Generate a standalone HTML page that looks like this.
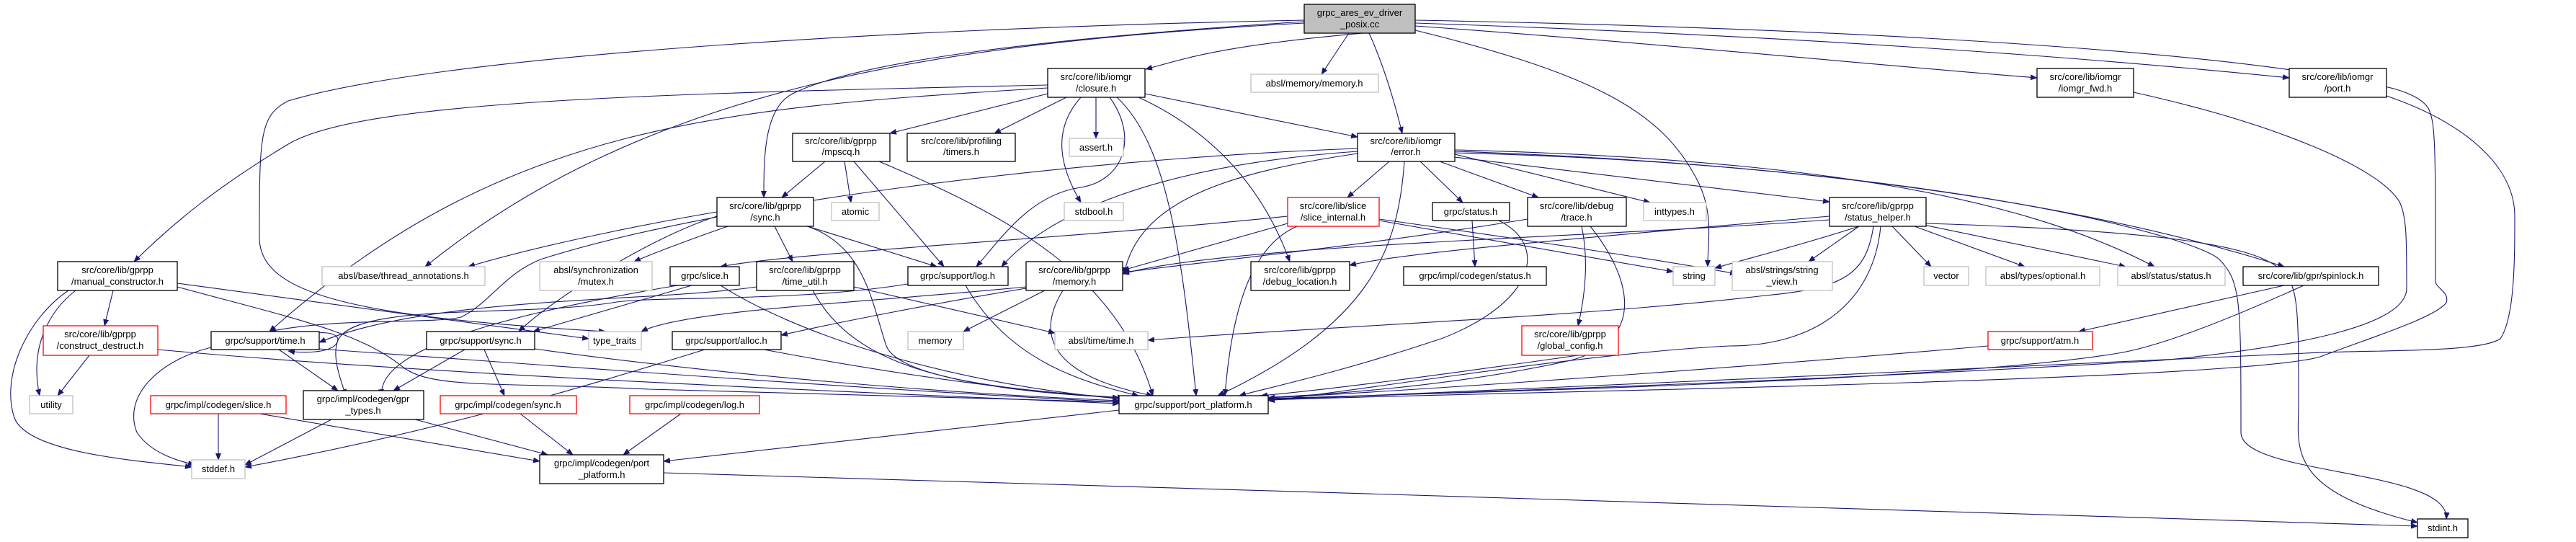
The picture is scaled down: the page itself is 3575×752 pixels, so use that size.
<!DOCTYPE html>
<html><head><meta charset="utf-8"><style>
html,body{margin:0;padding:0;background:#fff;}
svg{display:block;}
text{font-family:"Liberation Sans",sans-serif;font-size:13px;fill:#000;text-anchor:middle;}
.e{fill:none;stroke:#191970;stroke-width:1.1;marker-end:url(#a);}
.n{fill:#fff;stroke:#000;stroke-width:1.3;}
.g{fill:#fff;stroke:#bfbfbf;stroke-width:1.3;}
.r{fill:#fff;stroke:#ff0000;stroke-width:1.3;}
</style></head><body>
<svg width="3575" height="752" viewBox="0 0 3575 752" xmlns="http://www.w3.org/2000/svg">
<defs><marker id="a" markerWidth="10" markerHeight="8" refX="9" refY="4" orient="auto" markerUnits="userSpaceOnUse"><path d="M0,0 L10,4 L0,8 z" fill="#191970"/></marker></defs>
<g>
<!-- root edges -->
<path class="e" d="M1964,40 C1700,60 1650,80 1590,96"/>
<path class="e" d="M1872,46 L1834,103"/>
<path class="e" d="M1900,46 C1920,90 1935,140 1946,185"/>
<path class="e" d="M1964,36 C2300,60 2600,90 2827,108"/>
<path class="e" d="M1964,32 C2500,50 2900,80 3177,108"/>
<path class="e" d="M1964,28 C2600,40 3000,70 3200,100 C3280,115 3350,120 3370,150 C3380,170 3380,200 3380,390 C3380,400 3400,405 3395,420 C3380,440 3300,465 3220,495 C3100,530 2000,545 1760,555"/>
<path class="e" d="M1810,30 C1500,50 1200,80 1100,130 C1060,150 1060,220 1060,274"/>
<path class="e" d="M1810,32 C1300,60 900,120 590,370"/>
<path class="e" d="M1810,28 C1200,40 600,80 400,140 C360,160 360,190 360,330 C360,410 500,440 840,460"/>
<path class="e" d="M1964,42 C2200,100 2300,150 2350,240 C2380,290 2370,330 2370,370"/>
<!-- closure edges -->
<path class="e" d="M1454,118 C900,130 500,140 400,200 C300,260 240,310 186,363"/>
<path class="e" d="M1454,122 C1000,150 700,170 374,460"/>
<path class="e" d="M1454,130 L1235,185"/>
<path class="e" d="M1480,135 L1380,185"/>
<path class="e" d="M1521,135 L1521,192"/>
<path class="e" d="M1500,135 C1460,180 1470,230 1500,281"/>
<path class="e" d="M1540,135 C1580,190 1560,250 1500,260 C1430,270 1390,330 1355,370"/>
<path class="e" d="M1550,135 C1620,200 1640,350 1660,549"/>
<path class="e" d="M1580,135 C1700,190 1760,280 1790,363"/>
<path class="e" d="M1589,130 L1884,190"/>
<!-- mpscq -->
<path class="e" d="M1145,224 L1085,274"/>
<path class="e" d="M1172,224 L1181,281"/>
<path class="e" d="M1185,224 L1310,370"/>
<path class="e" d="M1220,224 C1400,300 1550,380 1600,549"/>
<!-- sync gprpp -->
<path class="e" d="M995,294 C900,310 750,340 650,370"/>
<path class="e" d="M1010,314 C950,335 910,350 880,363"/>
<path class="e" d="M1121,314 L1300,370"/>
<path class="e" d="M1075,314 L1100,363"/>
<path class="e" d="M995,300 C900,330 760,420 720,460"/>
<path class="e" d="M1120,314 C1200,340 1210,420 1230,480 C1250,530 1450,545 1560,552"/>
<!-- error -->
<path class="e" d="M1928,224 L1870,274"/>
<path class="e" d="M1971,224 L2030,281"/>
<path class="e" d="M1998,224 L2135,274"/>
<path class="e" d="M2019,214 L2290,281"/>
<path class="e" d="M2019,218 L2539,280"/>
<path class="e" d="M2019,208 C2500,220 2800,270 2990,370"/>
<path class="e" d="M2019,210 C2600,230 2950,300 3170,370"/>
<path class="e" d="M2019,212 C2700,230 3050,330 3080,360 C3110,390 3110,420 3110,600 C3110,660 3400,650 3395,720"/>
<path class="e" d="M1949,224 C1940,350 1900,450 1690,549"/>
<path class="e" d="M1884,210 C1600,230 1450,300 1390,370"/>
<path class="e" d="M1884,213 C1700,240 1580,280 1560,380"/>
<path class="e" d="M1884,206 C1500,220 1000,280 750,360 C700,380 680,420 640,440 C600,450 470,440 374,460"/>
<!-- slice_internal -->
<path class="e" d="M1787,300 C1500,330 1100,350 1000,370"/>
<path class="e" d="M1787,310 L1558,375"/>
<path class="e" d="M1914,306 L2322,377"/>
<path class="e" d="M1914,304 C2100,330 2300,360 2410,380"/>
<path class="e" d="M1800,314 C1740,340 1710,420 1700,549"/>
<!-- status.h -->
<path class="e" d="M2043,306 L2047,370"/>
<path class="e" d="M2080,306 C2150,340 2130,420 2000,470 C1850,520 1750,540 1720,549"/>
<!-- trace -->
<path class="e" d="M2195,314 C2205,360 2200,410 2190,452"/>
<path class="e" d="M2207,314 C2260,380 2290,470 2180,500 C2000,540 1800,550 1740,552"/>
<path class="e" d="M2120,304 C1900,340 1700,360 1558,378"/>
<!-- status_helper -->
<path class="e" d="M2539,300 C2200,330 1950,350 1873,368"/>
<path class="e" d="M2580,314 C2500,340 2420,360 2380,372"/>
<path class="e" d="M2580,314 L2510,363"/>
<path class="e" d="M2626,314 L2680,370"/>
<path class="e" d="M2657,314 L2810,370"/>
<path class="e" d="M2660,310 L2950,370"/>
<path class="e" d="M2600,314 C2590,380 2560,400 2450,410 C2200,440 1800,455 1593,472"/>
<path class="e" d="M2610,314 C2600,420 2520,480 2400,480 C2200,490 1900,540 1760,556"/>
<path class="e" d="M2673,310 C3000,320 3120,340 3160,370 C3190,390 3190,420 3190,560 C3190,620 3170,680 3355,725"/>
<path class="e" d="M2539,305 C2200,330 1700,340 1558,380"/>
<!-- memory gprpp -->
<path class="e" d="M1450,403 L1337,460"/>
<path class="e" d="M1424,400 C1300,420 1150,450 1084,465"/>
<path class="e" d="M1475,403 C1440,460 1450,520 1600,549"/>
<path class="e" d="M1424,398 C1200,420 950,430 890,460"/>
<!-- time_util -->
<path class="e" d="M1185,398 L1464,462"/>
<path class="e" d="M1128,403 C1180,500 1300,540 1560,552"/>
<path class="e" d="M1050,398 C900,420 600,410 443,475"/>
<!-- log.h -->
<path class="e" d="M1340,396 C1400,500 1500,530 1580,549"/>
<path class="e" d="M1260,394 C1100,420 900,410 850,420 C720,440 500,420 470,470 C460,490 470,520 480,549"/>
<!-- grpc/slice.h -->
<path class="e" d="M940,396 C800,420 520,470 530,549"/>
<path class="e" d="M960,396 L740,460"/>
<path class="e" d="M1000,396 C1100,460 1300,530 1560,554"/>
<!-- manual constructor -->
<path class="e" d="M105,403 C70,430 40,480 55,549"/>
<path class="e" d="M95,403 C40,440 0,520 20,580 C40,630 200,640 266,648"/>
<path class="e" d="M157,403 L145,452"/>
<path class="e" d="M246,393 L817,470"/>
<path class="e" d="M246,398 C400,440 500,460 560,510 C600,540 700,530 900,540 C1200,550 1400,555 1553,558"/>
<!-- construct_destruct -->
<path class="e" d="M124,493 L80,549"/>
<path class="e" d="M219,485 C600,520 1200,545 1553,560"/>
<!-- time.h -->
<path class="e" d="M400,472 C440,455 480,460 466,478 C455,490 420,490 400,487"/>
<path class="e" d="M387,485 L469,542"/>
<path class="e" d="M293,482 C220,500 170,550 190,600 C210,630 250,640 270,645"/>
<path class="e" d="M443,484 C800,510 1200,540 1553,558"/>
<!-- support sync -->
<path class="e" d="M645,485 L546,542"/>
<path class="e" d="M672,485 L700,549"/>
<path class="e" d="M742,484 C1000,520 1300,545 1553,556"/>
<!-- alloc -->
<path class="e" d="M978,485 C800,540 600,600 340,648"/>
<path class="e" d="M1060,485 C1300,530 1450,545 1553,552"/>
<!-- bottom row -->
<path class="e" d="M303,574 L303,638"/>
<path class="e" d="M360,574 L749,640"/>
<path class="e" d="M460,582 L340,645"/>
<path class="e" d="M576,582 L760,631"/>
<path class="e" d="M722,574 L795,631"/>
<path class="e" d="M945,574 L865,631"/>
<path class="e" d="M1553,569 L921,640"/>
<path class="e" d="M921,656 C1700,680 2800,710 3355,730"/>
<!-- right side -->
<path class="e" d="M2190,493 C2000,520 1850,540 1750,549"/>
<path class="e" d="M2759,480 C2300,520 1900,545 1760,552"/>
<path class="e" d="M3170,396 L2885,460"/>
<path class="e" d="M3197,396 C3100,440 3000,480 2940,490 C2700,530 2000,545 1760,553"/>
<path class="e" d="M2961,128 C3150,170 3300,230 3330,280 C3340,300 3340,330 3340,400 C3340,450 3200,480 3000,500 C2500,530 2000,545 1760,554"/>
<path class="e" d="M3312,133 C3420,170 3490,230 3490,300 C3490,360 3490,440 3470,470 C3440,490 3300,485 3200,490 C3000,500 2000,545 1760,555"/>
</g>
<g>
<rect x="1810" y="6" width="154" height="40" fill="#bfbfbf" stroke="#000" stroke-width="1.3"/><text x="1887" y="22">grpc_ares_ev_driver</text><text x="1887" y="38">_posix.cc</text>

<rect class="n" x="1454" y="95" width="135" height="40"/><text x="1521" y="111">src/core/lib/iomgr</text><text x="1521" y="127">/closure.h</text>
<rect class="g" x="1736" y="103" width="177" height="25"/><text x="1824" y="120" fill="#000">absl/memory/memory.h</text>
<rect class="n" x="2827" y="95" width="134" height="40"/><text x="2894" y="111">src/core/lib/iomgr</text><text x="2894" y="127">/iomgr_fwd.h</text>
<rect class="n" x="3177" y="95" width="135" height="40"/><text x="3244" y="111">src/core/lib/iomgr</text><text x="3244" y="127">/port.h</text>

<rect class="n" x="1100" y="185" width="135" height="39"/><text x="1167" y="200">src/core/lib/gprpp</text><text x="1167" y="215">/mpscq.h</text>
<rect class="n" x="1259" y="185" width="150" height="39"/><text x="1334" y="200">src/core/lib/profiling</text><text x="1334" y="215">/timers.h</text>
<rect class="g" x="1484" y="192" width="75" height="25"/><text x="1521" y="209">assert.h</text>
<rect class="n" x="1884" y="185" width="135" height="39"/><text x="1951" y="200">src/core/lib/iomgr</text><text x="1951" y="215">/error.h</text>

<rect class="n" x="995" y="274" width="134" height="40"/><text x="1062" y="290">src/core/lib/gprpp</text><text x="1062" y="306">/sync.h</text>
<rect class="g" x="1154" y="281" width="66" height="25"/><text x="1187" y="298">atomic</text>
<rect class="g" x="1477" y="281" width="82" height="25"/><text x="1518" y="298">stdbool.h</text>
<rect class="r" x="1787" y="274" width="127" height="40"/><text x="1850" y="290">src/core/lib/slice</text><text x="1850" y="306">/slice_internal.h</text>
<rect class="n" x="1988" y="281" width="107" height="25"/><text x="2041" y="298">grpc/status.h</text>
<rect class="n" x="2120" y="274" width="137" height="40"/><text x="2188" y="290">src/core/lib/debug</text><text x="2188" y="306">/trace.h</text>
<rect class="g" x="2281" y="281" width="87" height="25"/><text x="2324" y="298">inttypes.h</text>
<rect class="n" x="2539" y="274" width="134" height="40"/><text x="2606" y="290">src/core/lib/gprpp</text><text x="2606" y="306">/status_helper.h</text>

<rect class="n" x="80" y="363" width="166" height="40"/><text x="163" y="379">src/core/lib/gprpp</text><text x="163" y="395">/manual_constructor.h</text>
<rect class="g" x="447" y="370" width="226" height="26"/><text x="560" y="387">absl/base/thread_annotations.h</text>
<rect class="g" x="749" y="363" width="156" height="40"/><text x="827" y="379">absl/synchronization</text><text x="827" y="395">/mutex.h</text>
<rect class="n" x="930" y="370" width="96" height="26"/><text x="978" y="387">grpc/slice.h</text>
<rect class="n" x="1050" y="363" width="135" height="40"/><text x="1117" y="379">src/core/lib/gprpp</text><text x="1117" y="395">/time_util.h</text>
<rect class="n" x="1260" y="370" width="139" height="26"/><text x="1329" y="387">grpc/support/log.h</text>
<rect class="n" x="1424" y="363" width="134" height="40"/><text x="1491" y="379">src/core/lib/gprpp</text><text x="1491" y="395">/memory.h</text>
<rect class="n" x="1736" y="363" width="137" height="40"/><text x="1804" y="379">src/core/lib/gprpp</text><text x="1804" y="395">/debug_location.h</text>
<rect class="n" x="1948" y="370" width="198" height="26"/><text x="2047" y="387">grpc/impl/codegen/status.h</text>
<rect class="g" x="2322" y="370" width="58" height="26"/><text x="2351" y="387">string</text>
<rect class="g" x="2404" y="363" width="139" height="40"/><text x="2473" y="379">absl/strings/string</text><text x="2473" y="395">_view.h</text>
<rect class="g" x="2670" y="370" width="62" height="26"/><text x="2701" y="387">vector</text>
<rect class="g" x="2756" y="370" width="158" height="26"/><text x="2835" y="387">absl/types/optional.h</text>
<rect class="g" x="2939" y="370" width="149" height="26"/><text x="3013" y="387">absl/status/status.h</text>
<rect class="n" x="3113" y="370" width="188" height="26"/><text x="3207" y="387">src/core/lib/gpr/spinlock.h</text>

<rect class="r" x="60" y="452" width="159" height="41"/><text x="139" y="468">src/core/lib/gprpp</text><text x="139" y="484">/construct_destruct.h</text>
<rect class="n" x="293" y="460" width="150" height="25"/><text x="368" y="477">grpc/support/time.h</text>
<rect class="n" x="592" y="460" width="150" height="25"/><text x="667" y="477">grpc/support/sync.h</text>
<rect class="g" x="817" y="460" width="73" height="25"/><text x="853" y="477">type_traits</text>
<rect class="n" x="933" y="460" width="151" height="25"/><text x="1008" y="477">grpc/support/alloc.h</text>
<rect class="g" x="1260" y="460" width="77" height="25"/><text x="1298" y="477">memory</text>
<rect class="g" x="1464" y="460" width="129" height="25"/><text x="1528" y="477">absl/time/time.h</text>
<rect class="r" x="2112" y="452" width="134" height="41"/><text x="2179" y="468">src/core/lib/gprpp</text><text x="2179" y="484">/global_config.h</text>
<rect class="r" x="2759" y="460" width="145" height="25"/><text x="2831" y="477">grpc/support/atm.h</text>

<rect class="g" x="41" y="549" width="60" height="25"/><text x="71" y="566">utility</text>
<rect class="r" x="209" y="549" width="188" height="25"/><text x="303" y="566">grpc/impl/codegen/slice.h</text>
<rect class="n" x="421" y="542" width="167" height="40"/><text x="504" y="558">grpc/impl/codegen/gpr</text><text x="504" y="574">_types.h</text>
<rect class="r" x="611" y="549" width="189" height="25"/><text x="705" y="566">grpc/impl/codegen/sync.h</text>
<rect class="r" x="874" y="549" width="180" height="25"/><text x="964" y="566">grpc/impl/codegen/log.h</text>
<rect class="n" x="1553" y="549" width="207" height="25"/><text x="1656" y="566">grpc/support/port_platform.h</text>

<rect class="g" x="266" y="638" width="74" height="26"/><text x="303" y="655">stddef.h</text>
<rect class="n" x="749" y="631" width="172" height="40"/><text x="835" y="647">grpc/impl/codegen/port</text><text x="835" y="663">_platform.h</text>
<rect class="n" x="3355" y="720" width="70" height="26"/><text x="3390" y="737">stdint.h</text>
</g>
</svg>
</body></html>
